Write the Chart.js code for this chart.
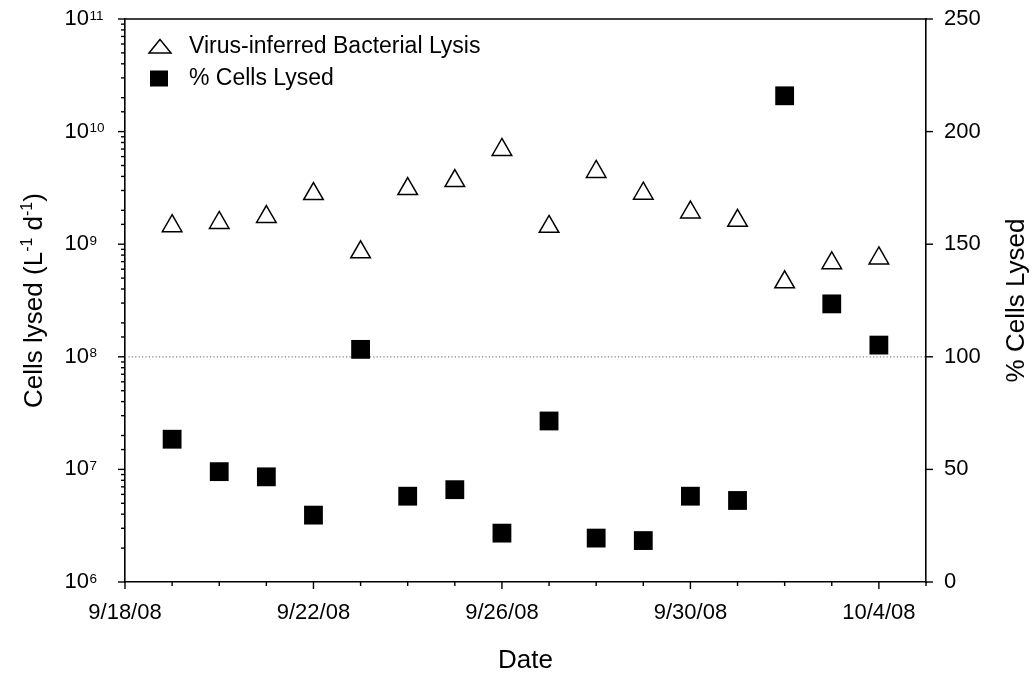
<!DOCTYPE html>
<html>
<head>
<meta charset="utf-8">
<title>Virus-inferred bacterial lysis</title>
<script src="https://cdn.jsdelivr.net/npm/chart.js@4/dist/chart.umd.min.js"></script>
<style>
  html, body { margin: 0; padding: 0; background: #fff; }
  #wrap { width: 1034px; height: 677px; }
</style>
</head>
<body>
<div id="wrap"><canvas id="c" width="1034" height="677"></canvas></div>
<script>
// Sampling dates
const dates = ['9/19/08', '9/20/08', '9/21/08', '9/22/08', '9/23/08', '9/24/08', '9/25/08', '9/26/08',
               '9/27/08', '9/28/08', '9/29/08', '9/30/08', '10/1/08', '10/2/08', '10/3/08', '10/4/08'];

// Virus-inferred bacterial lysis, cells lysed per litre per day
const lysis = [1.45e9, 1.55e9, 1.75e9, 2.8e9, 8.5e8, 3.1e9, 3.65e9, 6.9e9,
               1.43e9, 4.4e9, 2.82e9, 1.92e9, 1.62e9, 4.6e8, 6.8e8, 7.5e8];

// Percent of standing stock lysed per day
const pctLysed = [63.4, 49.0, 46.7, 29.7, 103.3, 38.1, 41.0, 21.7,
                  71.5, 19.5, 18.4, 38.1, 36.2, 215.9, 123.5, 105.2];

// 100 % reference level
const refLevel = [100, 100];

// Axis ranges and labels
const xStart = '9/18/08';
const xEnd = '10/5/08';
const xTickLabels = ['9/18/08', '9/22/08', '9/26/08', '9/30/08', '10/4/08'];
const leftRange = [1e6, 1e11];
const rightRange = [0, 250];
const rightStep = 50;

const legendLabels = ['Virus-inferred Bacterial Lysis', '% Cells Lysed'];
const leftTitle = [['Cells lysed (L', false], ['-1', true], [' d', false], ['-1', true], [')', false]];
const rightTitle = '% Cells Lysed';
const xTitle = 'Date';

const FONT = "'Liberation Sans', Arial, Helvetica, sans-serif";
const TICK_SIZE = 22;

// m/d/yy -> day number
function dayNum(s) {
  const [m, d, y] = s.split('/').map(Number);
  return Date.UTC(2000 + y, m - 1, d) / 86400000;
}
const day0 = dayNum(xStart);
const toX = s => dayNum(s) - day0;
const xMax = toX(xEnd);
const labelAt = new Map(xTickLabels.map(l => [toX(l), l]));

const lysisPts = dates.map((d, i) => ({ x: toX(d), y: lysis[i] }));
const pctPts = dates.map((d, i) => ({ x: toX(d), y: pctLysed[i] }));
const refPts = [{ x: 0, y: refLevel[0] }, { x: xMax, y: refLevel[1] }];

const isDecade = v => Math.abs(Math.log10(v) - Math.round(Math.log10(v))) < 1e-9;

// fixed axis box sizes, no overflow padding
const fixWidth = w => s => { s.width = w; s.paddingTop = 0; s.paddingBottom = 0; };
const fixHeight = h => s => { s.height = h; s.paddingLeft = 0; s.paddingRight = 0; };

// Tick marks, top frame, log labels with exponents, rotated y titles, legend
const decorations = {
  id: 'decorations',
  afterDraw(chart) {
    const { ctx, chartArea: a, scales } = chart;
    const line = (x1, y1, x2, y2) => { ctx.beginPath(); ctx.moveTo(x1, y1); ctx.lineTo(x2, y2); ctx.stroke(); };
    ctx.save();
    ctx.strokeStyle = '#000';
    ctx.fillStyle = '#000';
    ctx.lineWidth = 1.6;
    ctx.lineCap = 'butt';

    // top frame line
    line(a.left - 0.8, a.top, a.right + 0.8, a.top);

    ctx.lineWidth = 1.4;
    // bottom axis ticks
    scales.x.ticks.forEach(t => {
      const px = scales.x.getPixelForValue(t.value);
      const len = labelAt.has(t.value) ? 7 : 4;
      line(px, a.bottom, px, a.bottom + len);
    });
    // left log axis ticks
    scales.y.ticks.forEach(t => {
      const py = scales.y.getPixelForValue(t.value);
      const len = isDecade(t.value) ? 7 : 4;
      line(a.left, py, a.left - len, py);
    });
    // right axis ticks
    scales.y2.ticks.forEach(t => {
      const py = scales.y2.getPixelForValue(t.value);
      line(a.right, py, a.right + 7, py);
    });

    // left decade labels: 10 with superscript exponent
    ctx.textAlign = 'left';
    scales.y.ticks.forEach(t => {
      if (!isDecade(t.value)) return;
      const py = scales.y.getPixelForValue(t.value);
      const e = String(Math.round(Math.log10(t.value)));
      ctx.font = TICK_SIZE + 'px ' + FONT;
      ctx.textBaseline = 'middle';
      ctx.fillText('10', 64.5, py);
      const w = ctx.measureText('10').width;
      ctx.font = '13.5px ' + FONT;
      ctx.textBaseline = 'alphabetic';
      ctx.fillText(e, 64.5 + w + 0.5, py + 0.5);
    });

    // left title, rotated, with superscripts
    const bigF = '26px ' + FONT, smallF = '16px ' + FONT;
    ctx.save();
    ctx.translate(41.5, (a.top + a.bottom) / 2);
    ctx.rotate(-Math.PI / 2);
    ctx.textBaseline = 'alphabetic';
    let total = 0;
    leftTitle.forEach(([s, sup]) => { ctx.font = sup ? smallF : bigF; total += ctx.measureText(s).width; });
    let cx = -total / 2;
    leftTitle.forEach(([s, sup]) => {
      ctx.font = sup ? smallF : bigF;
      ctx.fillText(s, cx, sup ? -10 : 0);
      cx += ctx.measureText(s).width;
    });
    ctx.restore();

    // right title, reading bottom to top
    ctx.save();
    ctx.translate(1024, (a.top + a.bottom) / 2);
    ctx.rotate(-Math.PI / 2);
    ctx.font = bigF;
    ctx.textAlign = 'center';
    ctx.textBaseline = 'alphabetic';
    ctx.fillText(rightTitle, 0, 0);
    ctx.restore();

    // legend
    ctx.lineWidth = 1.5;
    ctx.lineJoin = 'miter';
    ctx.beginPath();
    ctx.moveTo(160, 39.5);
    ctx.lineTo(171, 53);
    ctx.lineTo(149, 53);
    ctx.closePath();
    ctx.fillStyle = '#fff';
    ctx.fill();
    ctx.stroke();
    ctx.fillStyle = '#000';
    ctx.fillRect(150, 70.5, 18, 16);
    ctx.font = '23px ' + FONT;
    ctx.textAlign = 'left';
    ctx.textBaseline = 'middle';
    ctx.fillText(legendLabels[0], 189, 47);
    ctx.fillText(legendLabels[1], 189, 79);
    ctx.restore();
  }
};

new Chart(document.getElementById('c'), {
  type: 'scatter',
  data: {
    datasets: [
      {
        label: legendLabels[0],
        data: lysisPts,
        yAxisID: 'y',
        pointStyle: 'triangle',
        pointRadius: 11.3,
        pointHoverRadius: 11.3,
        backgroundColor: '#fff',
        borderColor: '#000',
        pointBorderWidth: 1.5,
        order: 1
      },
      {
        label: legendLabels[1],
        data: pctPts,
        yAxisID: 'y2',
        pointStyle: 'rect',
        pointRadius: 13.3,
        pointHoverRadius: 13.3,
        backgroundColor: '#000',
        borderColor: '#000',
        pointBorderWidth: 0,
        order: 1
      },
      {
        type: 'line',
        label: 'ref',
        data: refPts,
        yAxisID: 'y2',
        borderColor: '#808080',
        borderWidth: 1.2,
        borderDash: [1.2, 2.2],
        pointRadius: 0,
        showLine: true,
        fill: false,
        order: 3
      }
    ]
  },
  options: {
    responsive: false,
    animation: false,
    devicePixelRatio: 1,
    layout: { padding: { top: 19, left: 0, right: 0, bottom: 0 } },
    plugins: { legend: { display: false }, tooltip: { enabled: false } },
    scales: {
      x: {
        type: 'linear',
        position: 'bottom',
        min: 0,
        max: xMax,
        afterFit: fixHeight(95),
        ticks: {
          stepSize: 1,
          autoSkip: false,
          maxRotation: 0,
          padding: 18,
          color: '#000',
          font: { family: FONT, size: TICK_SIZE },
          callback: v => labelAt.get(v) || ''
        },
        grid: { display: false, drawTicks: false },
        border: { display: true, color: '#000', width: 1.6 },
        title: {
          display: true,
          text: xTitle,
          color: '#000',
          font: { family: FONT, size: 26 },
          padding: { top: 0, bottom: 1 }
        }
      },
      y: {
        type: 'logarithmic',
        position: 'left',
        min: leftRange[0],
        max: leftRange[1],
        afterFit: fixWidth(125),
        ticks: { display: false },
        grid: { display: false, drawTicks: false },
        border: { display: true, color: '#000', width: 1.6 }
      },
      y2: {
        type: 'linear',
        position: 'right',
        min: rightRange[0],
        max: rightRange[1],
        afterFit: fixWidth(108),
        ticks: {
          stepSize: rightStep,
          padding: 18,
          color: '#000',
          font: { family: FONT, size: TICK_SIZE }
        },
        grid: { display: false, drawTicks: false },
        border: { display: true, color: '#000', width: 1.6 }
      }
    }
  },
  plugins: [decorations]
});
</script>
</body>
</html>
